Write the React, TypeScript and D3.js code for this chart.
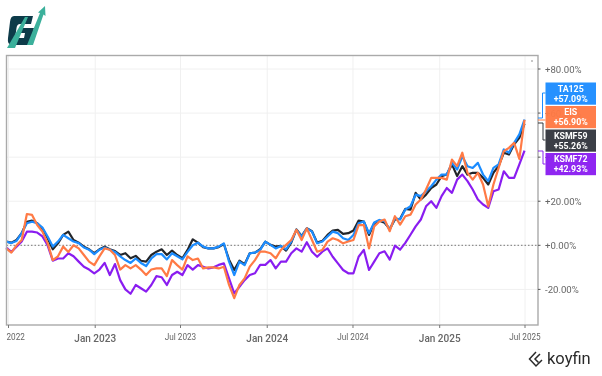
import React from "react";
import * as d3 from "d3";

const startDate = new Date(2022, 5, 26);
const stepDays = 11;

const ta125 = [1.7,1,2,5.5,10,10.7,10,8,4,-0.6,1.7,4.7,3.2,1.7,1,-1,-2,-4,-2,-1,-2,-3,-5,-6.7,-8,-6,-8,-9.4,-6,-4,-4,-6.4,-3.6,-5,-6.4,-3,0,1.2,
  -0.6,-1.4,-1.4,-0.6,0.9,-7.4,-13.5,-7.4,-9,-3.6,-3.3,-2.1,1.7,0.2,-1.4,-0.3,-1.8,1.7,7,4,7.7,6.2,0.9,1.7,4,6.2,5.5,3.2,2.4,4.7,10,10.8,5.5,10.3,11.5,
  10.9,7.1,12.4,11.7,16.2,17.7,23,22.3,24.5,26.8,29.8,32.1,32.1,37.4,34.4,40.4,35.9,35.1,37.4,32.1,29.1,35.1,36.7,43.5,42,46.5,50.3,57.09];
const eis = [-1.4,-3.3,0,2.4,14.2,13.8,9.2,6.2,1,-6.7,-5,-0.6,-3,0,-1.4,-4.4,-7.4,-9,-5,-1.4,-2,-4.4,-11,-9,-10.5,-9,-11,-13.5,-11,-10.5,-10.5,-14,-6.7,-9,-11,-5,-6.7,-6,
  -10.5,-10,-10,-10.5,-9.7,-18,-24,-18,-15,-9.7,-6.7,-2.9,-2.9,-3.6,-5.9,-2.1,0.2,2.4,7,2.4,7.7,2.4,-2.9,-2.1,1.7,3.2,2.4,0.9,1.7,2.4,9.2,9.2,-1.4,8.5,10.8,
  11.7,6.4,13.2,9.4,13.2,13.9,18.5,20.8,25.3,30.6,30.6,30.6,29.8,38.9,35.9,42,32.9,29.8,32.9,27.6,17.7,27.6,35.1,42.7,44.2,46.5,39.2,56.9];
const ksmf59 = [1.7,1.2,2.4,5.5,10.7,11.2,10,7.6,3.2,-1.8,0.9,4.7,6.2,2.4,1.2,-0.6,-1.8,-3.6,-1.8,-0.6,-1.8,-2.6,-4.4,-3.6,-5.9,-4.8,-7,-7.4,-4.4,-2.9,-1.8,-4.4,-2.4,-4.4,-5.9,-2.1,2.7,1.2,
  -0.9,-1.4,-1.4,-0.8,0.6,-6.5,-11.2,-7,-8.6,-3.6,-3.3,-1.8,1.7,0.2,-0.6,-0.3,-2.4,1.2,7.2,4.2,7.7,6.4,1.2,2,4.7,6.7,7,5.2,5.5,6.7,11.2,10.8,4.7,10,11.2,
  10.2,7.4,11.7,12,16.5,16.2,23.8,20.8,23,26,27.6,31.4,32.1,36.7,31.4,35.9,32.1,32.9,32.9,30.6,27.6,32.9,35.9,42,41.2,45.8,48.8,55.26];
const ksmf72 = [-1,-3,-0.6,1.7,6.2,6.2,5.8,4,0,-7,-6,-6,-3.6,-5,-7.4,-9.7,-11,-12.7,-11,-8,-13.5,-8.5,-15.8,-20,-22,-18,-19.5,-21,-18,-14,-14.5,-18,-13.5,-12,-13.5,-9,-11,-9,
  -9.7,-10.5,-10,-8.9,-8.2,-15,-21.8,-18.8,-15.8,-13.5,-12.7,-8.9,-8.9,-6.7,-10.5,-7.4,-7.4,-3.6,-1.4,-2.9,1.4,-2.9,-5.2,-2.9,-1.4,-5.2,-8.2,-11.2,-12.7,-12.7,-5.2,-2.1,-11.2,-7.4,-3.6,
  -2.7,-6.5,-0.2,-2,1.1,4.8,8.6,11.7,17.7,20,17,22.3,26,23.8,29.8,32.1,29.1,25.3,20.8,18.5,17,24.5,25.3,33.6,30.6,30.6,36.7,42.93];

const seriesNames = ["KSMF59", "TA125", "KSMF72", "EIS"];
const seriesValues = [ksmf59, ta125, ksmf72, eis];
const seriesColors = ["#24262b", "#1a8cff", "#8a1ff0", "#ff7a45"];

const legendNames = ["TA125", "EIS", "KSMF59", "KSMF72"];
const legendValues = ["+57.09%", "+56.90%", "+55.26%", "+42.93%"];
const legendColors = ["#1a8cff", "#ff7a45", "#33363d", "#8a1ff0"];

const yTicks = [80, 60, 40, 20, 0, -20];
const xTicks = [
  { date: new Date(2022, 6, 1), label: "2022", major: false, anchor: "start" },
  { date: new Date(2023, 0, 1), label: "Jan 2023", major: true, anchor: "middle" },
  { date: new Date(2023, 6, 1), label: "Jul 2023", major: false, anchor: "middle" },
  { date: new Date(2024, 0, 1), label: "Jan 2024", major: true, anchor: "middle" },
  { date: new Date(2024, 6, 1), label: "Jul 2024", major: false, anchor: "middle" },
  { date: new Date(2025, 0, 1), label: "Jan 2025", major: true, anchor: "middle" },
  { date: new Date(2025, 6, 1), label: "Jul 2025", major: false, anchor: "middle" },
];

const frame = { left: 6.5, right: 538, top: 55.5, bottom: 325 };
const FONT = "Roboto, Arial, sans-serif";

export default function App() {
  const x = d3.scaleTime().domain([new Date(2022, 6, 1), new Date(2025, 6, 1)]).range([8.5, 525]);
  const y = d3.scaleLinear().domain([0, 80]).range([245.3, 69]);
  const dates = ta125.map((_, i) => d3.timeDay.offset(startDate, i * stepDays));
  const line = d3.line<number>().x((_, i) => x(dates[i])).y((v) => y(v));

  return (
    <svg width={602} height={376} style={{ position: "absolute", left: 0, top: 0, background: "#fff" }} fontFamily={FONT}>
      <defs>
        <filter id="soft" x="-5%" y="-5%" width="110%" height="110%">
          <feGaussianBlur stdDeviation="0.35" />
        </filter>
      </defs>
      <g filter="url(#soft)">
        <g>
          <path d="M14 16 H33 L31 24 H20 Q17 24 16.5 28 L15.5 35 Q15 38 18 38 H24 L25 33 H20 L21.5 28 H34 L30 45 H12 Q7 45 8 38 L10 22 Q10.5 16 14 16 Z" fill="#0e3a4a" />
          <path d="M7 48 L25 17 L28 17 L15 48 Z" fill="#3bb09b" />
          <path d="M27 45 L40 13 L38 12.5 L45 6 L45.5 16 L43.5 14.5 L33 45 Z" fill="#3bb09b" />
        </g>

        {yTicks.map((t) => (
          <line key={t} x1={frame.left} x2={frame.right} y1={y(t)} y2={y(t)} stroke="#f0f0f0" strokeWidth={1} />
        ))}
        {xTicks.map((t) => (
          <line key={t.label} x1={x(t.date)} x2={x(t.date)} y1={frame.top} y2={frame.bottom} stroke="#f0f0f0" strokeWidth={1} />
        ))}
        <line x1={frame.left} x2={frame.right} y1={y(0)} y2={y(0)} stroke="#777" strokeWidth={1} strokeDasharray="1.5 2" />

        {seriesValues.map((vals, i) => (
          <path key={seriesNames[i]} d={line(vals) ?? ""} fill="none" stroke={seriesColors[i]} strokeWidth={2.2} strokeLinejoin="round" />
        ))}

        <rect x={frame.left} y={frame.top} width={frame.right - frame.left} height={frame.bottom - frame.top} fill="none" stroke="#aaa" strokeWidth={1.4} />
        <circle cx={532} cy={61} r={0.7} fill="#666" />

        {yTicks.map((t) => (
          <g key={t}>
            <line x1={frame.right} x2={frame.right + 2.5} y1={y(t)} y2={y(t)} stroke="#555" strokeWidth={1} />
            <text x={545} y={y(t) + 3.5} fontSize={9.6} fill="#666">
              {(t >= 0 ? "+" : "-") + Math.abs(t).toFixed(2) + "%"}
            </text>
          </g>
        ))}

        {xTicks.map((t) => (
          <g key={t.label}>
            <line x1={x(t.date)} x2={x(t.date)} y1={frame.bottom} y2={frame.bottom + 3} stroke="#777" strokeWidth={1} />
            <text
              x={x(t.date) - (t.anchor === "start" ? 2 : 0)}
              y={t.major ? 342 : 340}
              fontSize={t.major ? 10 : 8.2}
              fontWeight={t.major ? 500 : 400}
              textAnchor={t.anchor}
              fill="#666"
            >
              {t.label}
            </text>
          </g>
        ))}

        <path d="M538 118 H542.5 V93 H545.5" fill="none" stroke="#1a8cff" strokeWidth={1} />
        <path d="M538 120 H545.5" fill="none" stroke="#ff7a45" strokeWidth={1} />
        <path d="M538 123 H543 V140 H545.5" fill="none" stroke="#33363d" strokeWidth={1} />
        <path d="M538 151 H543 V164 H545.5" fill="none" stroke="#8a1ff0" strokeWidth={1} />

        {legendNames.map((n, i) => {
          const top = 82.5 + i * 23.5;
          return (
            <g key={n}>
              <rect x={545.5} y={top} width={50.5} height={22.2} fill={legendColors[i]} fillOpacity={0.96} />
              <text x={570.7} y={top + 9.4} fontSize={8.8} fontWeight={700} textAnchor="middle" fill="#fff">{n}</text>
              <text x={570.7} y={top + 19} fontSize={8.8} fontWeight={700} textAnchor="middle" fill="#fff">{legendValues[i]}</text>
            </g>
          );
        })}

        <g fill="none" stroke="#2b2b2b" strokeWidth={1.5}>
          <path d="M536 352 L529.5 359 L536 366 L542 360" />
          <path d="M540 354 L535 359 L538.5 362.5" />
        </g>
        <text x={547} y={364} fontSize={16.5} fill="#2b2b2b">koyfin</text>
      </g>
    </svg>
  );
}
